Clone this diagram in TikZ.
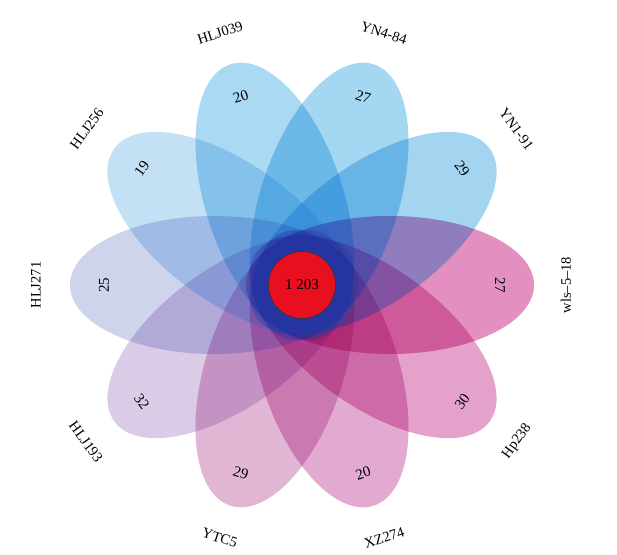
\documentclass[tikz,border=0pt]{standalone}
\usepackage{fontspec}
\setmainfont{Liberation Serif}
% deep tints (normal transparency) and multiply tints for each petal
\definecolor{sW}{RGB}{170,0,110}   \definecolor{mW}{RGB}{244,181,218}
\definecolor{sYa}{RGB}{0,60,190}   \definecolor{mYa}{RGB}{204,251,253}
\definecolor{sYb}{RGB}{0,60,190}   \definecolor{mYb}{RGB}{206,254,255}
\definecolor{sJa}{RGB}{0,65,195}   \definecolor{mJa}{RGB}{212,255,255}
\definecolor{sJb}{RGB}{40,100,205} \definecolor{mJb}{RGB}{236,255,255}
\definecolor{sJc}{RGB}{40,40,165}  \definecolor{mJc}{RGB}{249,255,255}
\definecolor{sJd}{RGB}{110,60,160} \definecolor{mJd}{RGB}{246,240,249}
\definecolor{sYT}{RGB}{150,30,130} \definecolor{mYT}{RGB}{246,222,237}
\definecolor{sXZ}{RGB}{160,0,120}  \definecolor{mXZ}{RGB}{245,213,233}
\definecolor{sHp}{RGB}{170,0,120}  \definecolor{mHp}{RGB}{245,202,227}
\definecolor{coreRed}{RGB}{232,16,30}
\begin{document}
\begin{tikzpicture}[x=1pt,y=1pt,
  tint/.style={fill opacity=0.2},
  petal/.style={blend mode=multiply},
  lab/.style={font=\fontsize{14.5}{16}\selectfont, inner sep=0pt},
  num/.style={font=\fontsize{15}{16}\selectfont, inner sep=0pt}]
\useasboundingbox (-302,-269) rectangle (315,285);
\foreach \a/\c in {216/Jd, 252/YT, 288/XZ, 324/Hp, 0/W, 36/Ya, 72/Yb, 108/Ja, 144/Jb, 180/Jc} {
  \begin{scope}[rotate=\a]
    \fill[tint, fill=s\c] (88,0) ellipse [x radius=144, y radius=69];
    \fill[petal, fill=m\c] (88,0) ellipse [x radius=144, y radius=69];
  \end{scope}
}
\node[circle, minimum size=67pt, inner sep=0pt, fill=coreRed, draw=black!80, line width=0.6pt] (core) at (0,0) {};
\node[num] (ncore) at (core.center) {1 203};
% labels
\node[lab, rotate=18]  (lJ039) at (108:265) {HLJ039};
\node[lab, rotate=-18] (lY484) at (72:265) {YN4-84};
\node[lab, rotate=-54] (lY191) at (36:265) {YN1-91};
\node[lab, rotate=90]  (lwls)  at (0:264) {wls--5--18};
\node[lab, rotate=54]  (lHp)   at (-36:266) {Hp238};
\node[lab, rotate=18]  (lXZ)   at (-72:266) {XZ274};
\node[lab, rotate=-18] (lYTC)  at (-108:266) {YTC5};
\node[lab, rotate=-54] (lJ193) at (-144:267) {HLJ193};
\node[lab, rotate=90]  (lJ271) at (180:266) {HLJ271};
\node[lab, rotate=54]  (lJ256) at (144:266) {HLJ256};
% numbers
\node[num, rotate=18]  (n1) at (108:198) {20};
\node[num, rotate=-18] (n2) at (72:198) {27};
\node[num, rotate=-54] (n3) at (36:198) {29};
\node[num, rotate=-90] (n4) at (0:198) {27};
\node[num, rotate=54]  (n5) at (-36:198) {30};
\node[num, rotate=18]  (n6) at (-72:198) {20};
\node[num, rotate=-18] (n7) at (-108:198) {29};
\node[num, rotate=-54] (n8) at (-144:198) {32};
\node[num, rotate=90]  (n9) at (180:198) {25};
\node[num, rotate=54]  (n10) at (144:198) {19};
\end{tikzpicture}
\end{document}
